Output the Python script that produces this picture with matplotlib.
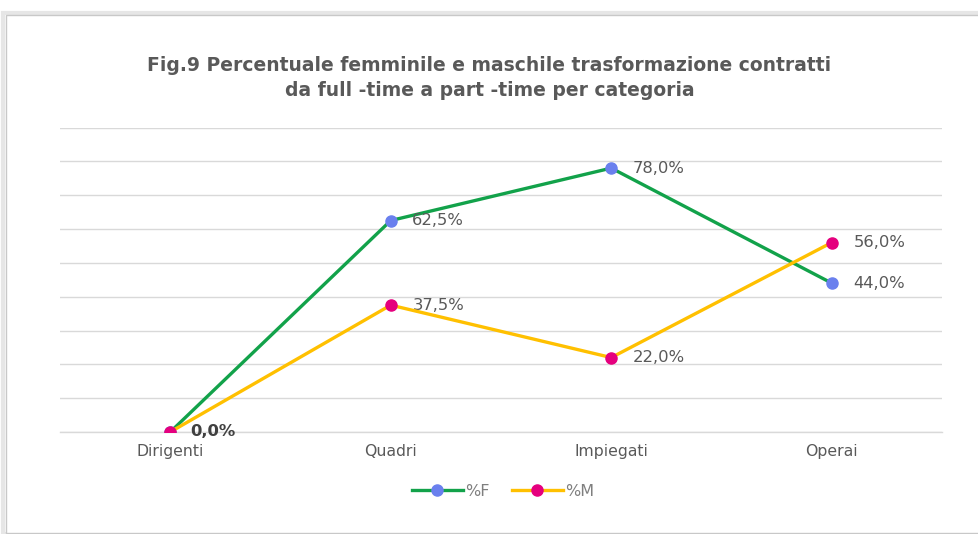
import matplotlib
matplotlib.use("Agg")
import matplotlib.pyplot as plt
from matplotlib.patches import Rectangle
from matplotlib.lines import Line2D

categories = ["Dirigenti", "Quadri", "Impiegati", "Operai"]
pct_f = [0.0, 62.5, 78.0, 44.0]
pct_m = [0.0, 37.5, 22.0, 56.0]
labels_f = ["", "62,5%", "78,0%", "44,0%"]
labels_m = ["0,0%", "37,5%", "22,0%", "56,0%"]
series_names = ["%F", "%M"]
title = "Fig.9 Percentuale femminile e maschile trasformazione contratti\nda full -time a part -time per categoria"

plt.rcParams['font.family'] = ['DejaVu Sans']

fig = plt.figure(figsize=(9.79, 5.34), dpi=100)
fig.patch.set_facecolor("white")

# outer frame with soft shadow
fig.add_artist(Rectangle((3/979, 0), 976/979, 1 - 13/534, transform=fig.transFigure,
                         facecolor="none", edgecolor="#e6e6e6", linewidth=3, zorder=-2))
fig.add_artist(Rectangle((6/979, 0.002), 973/979, 1 - 16/534, transform=fig.transFigure,
                         facecolor="white", edgecolor="#c8c8c8", linewidth=1, zorder=-1))

ax = fig.add_axes([60/979, 102/534, 882/979, 304.5/534])
ax.set_facecolor("none")
x = list(range(len(categories)))

green = "#12A24A"
yellow = "#FFC000"
blue = "#6A80EE"
magenta = "#E5007E"

ax.plot(x, pct_f, color=green, lw=2.4, marker="o", ms=8, mfc=blue, mec=blue, zorder=3)
ax.plot(x, pct_m, color=yellow, lw=2.4, marker="o", ms=8, mfc=magenta, mec=magenta, zorder=4)

ax.set_xlim(-0.5, len(categories) - 0.5)
ax.set_ylim(0, 90)
ax.set_yticks(range(0, 91, 10))
ax.yaxis.grid(True, color="#d9d9d9", lw=1)
ax.axhline(0, color="#d9d9d9", lw=1, clip_on=False, zorder=0.5)
ax.tick_params(axis="y", left=False, labelleft=False)
ax.tick_params(axis="x", bottom=False, labelsize=11.3, labelcolor="#595959", pad=5)
ax.set_xticks(x)
ax.set_xticklabels(categories)
for s in ax.spines.values():
    s.set_visible(False)

for xi, v, t in zip(x, pct_f, labels_f):
    if t:
        ax.annotate(t, (xi, v), xytext=(15.5, 0), textcoords="offset points",
                    va="center", ha="left", fontsize=11.8, color="#595959")
for xi, v, t in zip(x, pct_m, labels_m):
    bold = t == "0,0%"
    off = 14.5 if bold else 15.5
    ax.annotate(t, (xi, v), xytext=(off, 0), textcoords="offset points",
                va="center", ha="left", fontsize=11.8, color="#404040" if bold else "#595959",
                fontweight="bold" if bold else "normal")

fig.text(0.5, 1 - 78/534, title, ha="center", va="center", fontsize=13.5,
         fontweight="bold", color="#595959", linespacing=1.4)

handles = [Line2D([], [], color=green, lw=2.4, marker="o", ms=8, mfc=blue, mec=blue),
           Line2D([], [], color=yellow, lw=2.4, marker="o", ms=8, mfc=magenta, mec=magenta)]
fig.legend(handles, series_names, loc="center", bbox_to_anchor=(503/979, 1 - 491/534),
           ncol=2, frameon=False, fontsize=11.5, labelcolor="#7f7f7f", handlelength=3.2,
           handletextpad=0.15, columnspacing=1.4)

fig.savefig("out.png", dpi=100, facecolor="white")
